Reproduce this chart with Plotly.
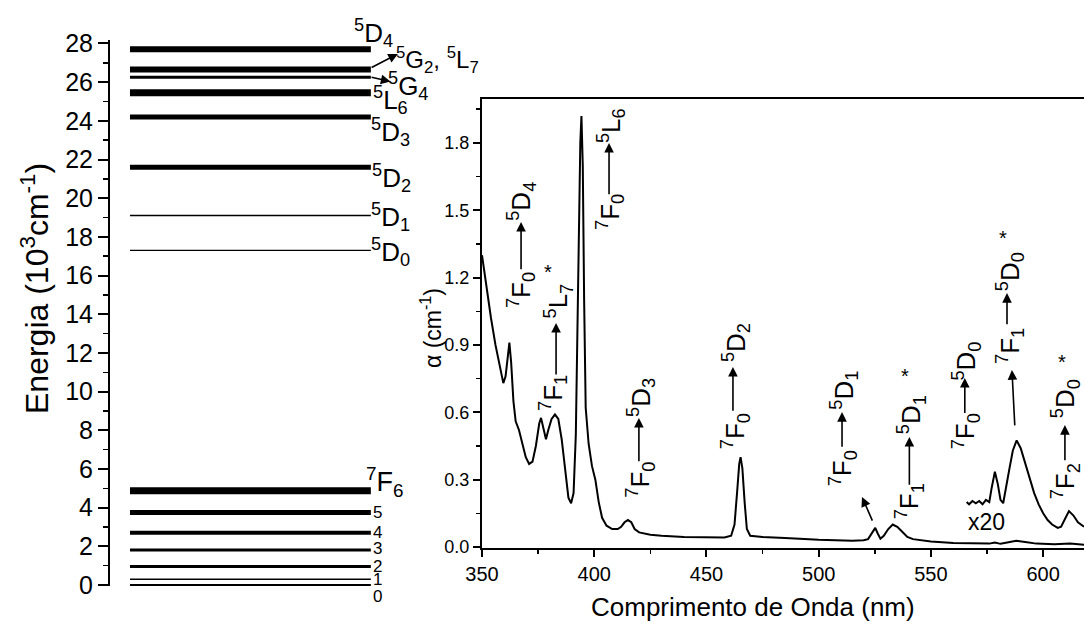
import plotly.graph_objects as go

# ---------------- data ----------------
# Energy levels of Eu3+ (10^3 cm^-1)
level_names = ["7F0", "7F1", "7F2", "7F3", "7F4", "7F5", "7F6",
               "5D0", "5D1", "5D2", "5D3", "5L6", "5G4", "5G2_5L7", "5D4"]
level_energy = [0.0, 0.30, 0.95, 1.81, 2.70, 3.75, 4.87,
                17.3, 19.1, 21.6, 24.2, 25.45, 26.25, 26.65, 27.7]

# Absorption spectrum
wavelength = [350, 352, 354, 356, 358, 359.5, 360.5, 361.5, 362.2, 363, 364, 365, 366.5,
              368, 369.5, 371, 372.5, 374, 375.5, 376.3, 377.5, 378.5, 379.5, 381, 382.5,
              384, 385.5, 387, 388.5, 389.7, 390.8, 391.8, 392.5, 393.2, 393.8, 394.3, 394.9,
              395.5, 396.2, 397.5, 399, 400.5, 402, 403.5, 405.5, 408, 410.5, 412, 413.5, 415,
              416.5, 418, 420, 425, 430, 440, 450, 458, 461, 462.5, 463.7, 464.6, 465.2, 466,
              467, 468, 469.5, 475, 485, 500, 515, 520, 522, 524, 525.2, 526.3, 527.5, 529,
              531, 533, 535, 537, 539.5, 542, 550, 560, 570, 576, 578.5, 581, 584, 588, 592,
              597, 605, 612, 618.2]
absorption = [1.30, 1.15, 1.02, 0.90, 0.80, 0.73, 0.76, 0.86, 0.91, 0.82, 0.65, 0.56, 0.52,
              0.46, 0.40, 0.37, 0.38, 0.45, 0.55, 0.575, 0.52, 0.48, 0.52, 0.57, 0.59,
              0.57, 0.48, 0.34, 0.22, 0.195, 0.24, 0.50, 1.00, 1.50, 1.80, 1.92, 1.70,
              1.10, 0.62, 0.46, 0.36, 0.30, 0.20, 0.13, 0.095, 0.08, 0.08, 0.09, 0.11, 0.12,
              0.11, 0.08, 0.065, 0.055, 0.05, 0.045, 0.042, 0.042, 0.05, 0.10, 0.25, 0.37, 0.40, 0.35,
              0.20, 0.08, 0.05, 0.045, 0.04, 0.032, 0.028, 0.03, 0.035, 0.065, 0.085, 0.06, 0.037, 0.05,
              0.08, 0.10, 0.09, 0.07, 0.045, 0.035, 0.025, 0.018, 0.015, 0.015, 0.02, 0.014, 0.02, 0.028, 0.022,
              0.015, 0.012, 0.015, 0.01]

# x20 magnified region
wavelength_x20 = [565.9, 567, 568.5, 570, 571.5, 573, 574.5, 576, 577, 578.5, 579.8, 581, 582.2,
                  583.5, 585, 586.5, 588.2, 590, 592, 594, 596, 598, 600, 602, 604, 606.5, 608,
                  610, 611.5, 613.5, 615.5, 618.2]
absorption_x20 = [0.20, 0.19, 0.205, 0.195, 0.205, 0.19, 0.21, 0.20, 0.26, 0.335, 0.28, 0.21, 0.195,
                  0.26, 0.35, 0.43, 0.475, 0.44, 0.37, 0.30, 0.24, 0.19, 0.15, 0.12, 0.10, 0.085, 0.09,
                  0.13, 0.16, 0.14, 0.11, 0.09]

x_ticks = [350, 400, 450, 500, 550, 600]
y_ticks = [0.0, 0.3, 0.6, 0.9, 1.2, 1.5, 1.8]
e_ticks = list(range(0, 29, 2))

# ---------------- styles / layout geometry ----------------
W, H = 1084, 625
FONT = "Liberation Sans, Arial, sans-serif"
level_linewidth = [2, 1.5, 3, 3, 4, 5, 7, 1.3, 1.5, 5, 5, 7, 3, 6, 6]
LINE_X0, LINE_X1 = 0.054, 0.705
LBL = 26   # transition / level label font size

L_XDOM = [110 / W, 480 / W]
L_YDOM = [1 - 586 / H, 1 - 40 / H]
L_XR = [0, 1]
L_YR = [-0.052, 28.18]
R_XDOM = [482 / W, 1.0]
R_YDOM = [1 - 548 / H, 1 - 99 / H]
R_XR = [350, 618.2]
R_YR = [-0.0045, 1.9955]


def left_paper(x, y):
    px = L_XDOM[0] + (x - L_XR[0]) / (L_XR[1] - L_XR[0]) * (L_XDOM[1] - L_XDOM[0])
    py = L_YDOM[0] + (y - L_YR[0]) / (L_YR[1] - L_YR[0]) * (L_YDOM[1] - L_YDOM[0])
    return px, py


fig = go.Figure()

for name, e, lw in zip(level_names, level_energy, level_linewidth):
    fig.add_trace(go.Scatter(x=[LINE_X0, LINE_X1], y=[e, e], mode="lines",
                             line=dict(color="black", width=lw), name=name,
                             xaxis="x", yaxis="y", hoverinfo="skip"))

fig.add_trace(go.Scatter(x=wavelength, y=absorption, mode="lines",
                         line=dict(color="black", width=2), xaxis="x2", yaxis="y2"))
fig.add_trace(go.Scatter(x=wavelength_x20, y=absorption_x20, mode="lines",
                         line=dict(color="black", width=2), xaxis="x2", yaxis="y2"))

ann = []


def txt_left(text, x, y, size=LBL):
    px, py = left_paper(x, y)
    ann.append(dict(text=text, x=px, y=py, xref="paper", yref="paper", showarrow=False,
                    font=dict(size=size, color="black", family=FONT),
                    xanchor="center", yanchor="middle"))


def txt(text, x, y, size=LBL, angle=0):
    ann.append(dict(text=text, x=x, y=y, xref="x2", yref="y2", showarrow=False,
                    textangle=angle, font=dict(size=size, color="black", family=FONT),
                    xanchor="center", yanchor="middle"))


def arrow(x0, y0, x1, y1, ref):
    ann.append(dict(text="", x=x1, y=y1, ax=x0, ay=y0, xref="x" + ref, yref="y" + ref,
                    axref="x" + ref, ayref="y" + ref, showarrow=True, arrowhead=2,
                    arrowsize=1.2, arrowwidth=1.6, arrowcolor="black", standoff=0))


def sup_sub(sp, letter, sb):
    return f"<sup>{sp}</sup>{letter}<sub>{sb}</sub>"


# left panel level labels (x in [0,1] of hidden axis, y in energy units)
txt_left(sup_sub(5, "D", 4), 0.711, 28.54)
txt_left(sup_sub(5, "G", 2) + ", " + sup_sub(5, "L", 7), 0.885, 27.15, 24)
txt_left(sup_sub(5, "G", 4), 0.806, 25.80)
txt_left(sup_sub(5, "L", 6), 0.759, 25.08)
txt_left(sup_sub(5, "D", 3), 0.759, 23.42)
txt_left(sup_sub(5, "D", 2), 0.762, 21.04)
txt_left(sup_sub(5, "D", 1), 0.757, 19.03)
txt_left(sup_sub(5, "D", 0), 0.757, 17.22)
txt_left(sup_sub(7, "F", 6), 0.743, 5.33, 27)
for lab, yy in zip(["5", "4", "3", "2", "1", "0"], [3.77, 2.74, 1.91, 0.98, 0.26, -0.62]):
    txt_left(lab, 0.724, yy, 17)
arrow(0.703, 26.72, 0.778, 27.46, "")
arrow(0.703, 26.27, 0.758, 26.03, "")

# right panel transitions:
# (low label, high label, x_low, y_low, x_arrow, y_tail, y_head, x_high, y_high, star)
transitions = [
    (sup_sub(7, "F", 0), sup_sub(5, "D", 4), 367.4, 1.145, 367.4, 1.230, 1.448, 367.6, 1.540, None),
    (sup_sub(7, "F", 1), sup_sub(5, "L", 7), 381.6, 0.686, 383.0, 0.762, 0.998, 384.0, 1.095, (379.4, 1.225)),
    (sup_sub(7, "F", 0), sup_sub(5, "L", 6), 407.0, 1.492, 406.6, 1.564, 1.800, 407.5, 1.875, None),
    (sup_sub(7, "F", 0), sup_sub(5, "D", 3), 420.4, 0.300, 419.9, 0.375, 0.575, 420.8, 0.668, None),
    (sup_sub(7, "F", 0), sup_sub(5, "D", 2), 463.1, 0.515, 461.8, 0.600, 0.802, 463.1, 0.912, None),
    (sup_sub(7, "F", 0), sup_sub(5, "D", 1), 510.8, 0.350, 510.4, 0.440, 0.601, 511.2, 0.700, None),
    (sup_sub(7, "F", 1), sup_sub(5, "D", 1), 540.4, 0.205, 540.4, 0.270, 0.490, 541.0, 0.590, (538.4, 0.760)),
    (sup_sub(7, "F", 0), sup_sub(5, "D", 0), 565.6, 0.515, 565.1, 0.590, 0.753, 565.6, 0.830, None),
    (sup_sub(7, "F", 1), sup_sub(5, "D", 0), 585.2, 0.895, 583.9, 0.985, 1.131, 585.2, 1.228, (582.1, 1.375)),
    (sup_sub(7, "F", 2), sup_sub(5, "D", 0), 610.1, 0.292, 609.7, 0.380, 0.543, 610.1, 0.662, (608.3, 0.825)),
]
for lo, hi, xl, yl, xa, y0, y1, xh, yh, star in transitions:
    txt(lo, xl, yl, LBL, -90)
    arrow(xa, y0, xa, y1, "2")
    txt(hi, xh, yh, LBL, -90)
    if star:
        txt("*", star[0], star[1], 20, 0)

arrow(524.2, 0.111, 519.3, 0.223, "2")
arrow(587.4, 0.535, 586.1, 0.788, "2")
txt("x20", 574.9, 0.111, 23)

# axis titles
ann.append(dict(text="Energia (10<sup>3</sup>cm<sup>-1</sup>)", x=35 / W, y=1 - 289 / H,
                xref="paper", yref="paper", showarrow=False, textangle=-90,
                font=dict(size=32, color="black", family=FONT), xanchor="center", yanchor="middle"))
ann.append(dict(text="α (cm<sup>-1</sup>)", x=431 / W, y=1 - 328 / H,
                xref="paper", yref="paper", showarrow=False, textangle=-90,
                font=dict(size=23, color="black", family=FONT), xanchor="center", yanchor="middle"))
ann.append(dict(text="Comprimento de Onda (nm)", x=753 / W, y=1 - 607 / H,
                xref="paper", yref="paper", showarrow=False,
                font=dict(size=26, color="black", family=FONT), xanchor="center", yanchor="middle"))

fig.update_layout(
    template="none",
    width=W, height=H, autosize=False,
    margin=dict(l=0, r=0, t=0, b=0, pad=0),
    paper_bgcolor="white", plot_bgcolor="white",
    showlegend=False,
    font=dict(family=FONT, color="black"),
    annotations=ann,
    xaxis=dict(domain=L_XDOM, range=L_XR, visible=False, fixedrange=True, automargin=False),
    yaxis=dict(domain=L_YDOM, range=L_YR, anchor="x", automargin=False,
               tickvals=e_ticks, ticks="outside", ticklen=10, tickwidth=2, tickcolor="black",
               showline=True, linewidth=2, linecolor="black", showgrid=False, zeroline=False,
               tickfont=dict(size=25, color="black", family=FONT),
               minor=dict(dtick=1, ticks="outside", ticklen=5, tickwidth=1.5, tickcolor="black")),
    xaxis2=dict(domain=R_XDOM, range=R_XR, anchor="y2", automargin=False,
                tickvals=x_ticks, ticks="outside", ticklen=7, tickwidth=2, tickcolor="black",
                showline=True, linewidth=2, linecolor="black", mirror=True,
                showgrid=False, zeroline=False,
                tickfont=dict(size=20, color="black", family=FONT),
                minor=dict(tick0=350, dtick=25, ticks="outside", ticklen=4, tickwidth=1.5,
                           tickcolor="black")),
    yaxis2=dict(domain=R_YDOM, range=R_YR, anchor="x2", automargin=False,
                tickvals=y_ticks, tickformat=".1f", ticks="outside", ticklen=7, tickwidth=2,
                tickcolor="black", showline=True, linewidth=2, linecolor="black",
                showgrid=False, zeroline=False,
                tickfont=dict(size=18, color="black", family=FONT),
                minor=dict(tick0=0, dtick=0.15, ticks="outside", ticklen=4, tickwidth=1.5,
                           tickcolor="black")),
)

fig.write_html("out.html",
               config={"displayModeBar": False, "staticPlot": True},
               post_script="document.body.style.margin='0';document.body.style.overflow='hidden';")
